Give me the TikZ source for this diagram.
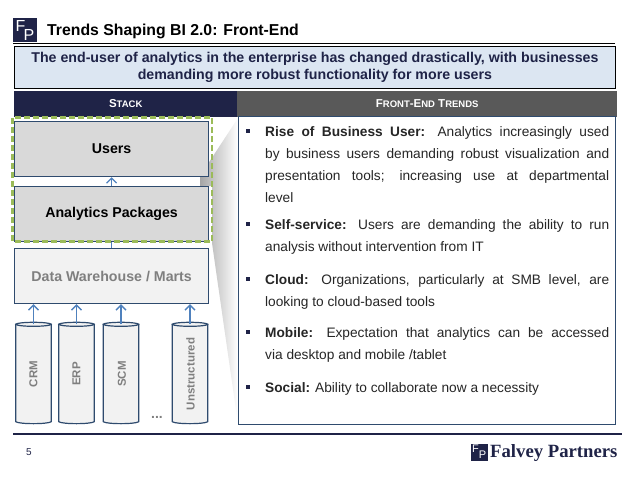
\documentclass[tikz,border=0pt]{standalone}
\usepackage{fontspec}
\setmainfont{Liberation Sans}
\newfontfamily\serifbrand{Liberation Serif}
\usetikzlibrary{arrows.meta,shapes.geometric,calc}
\definecolor{navy}{HTML}{1F2347}
\definecolor{edge}{HTML}{2F4B6E}
\definecolor{arrowblue}{HTML}{4F81BD}
\definecolor{banner}{HTML}{DCE6F2}
\definecolor{boxgray}{HTML}{D9D9D9}
\definecolor{lightbox}{HTML}{F2F2F2}
\definecolor{midgray}{HTML}{7F7F7F}
\definecolor{headgray}{HTML}{595959}
\definecolor{dgreen}{HTML}{9BBB59}
\definecolor{bodytext}{HTML}{262626}
\newcommand{\drumshape}[1]{%
  \draw[drumline,fill=lightbox] (#1.north west) -- (#1.south west)
    .. controls ($(#1.south west)+(3,2.6)$) and ($(#1.south east)+(-3,2.6)$) .. (#1.south east)
    -- (#1.north east) -- cycle;
  \draw[drumline,fill=lightbox] (#1.north) ellipse [x radius=17.5pt,y radius=2pt];
}
\tikzset{
  x=1pt,y=-1pt,
  stackbox/.style={draw=edge,line width=1.2pt,fill=boxgray,minimum width=194pt,anchor=north west,inner sep=0pt,font=\fontsize{14.2}{16}\selectfont\bfseries},
  drumline/.style={draw=edge,line width=1.2pt},
  sourcecyl/.style={minimum width=35pt,minimum height=97pt,inner sep=0pt,anchor=center},
  cyllabel/.style={rotate=90,text=midgray,font=\fontsize{11.5}{14}\selectfont\bfseries},
  flow/.style={arrowblue,line width=1.3pt,-{Straight Barb[length=5pt,width=10pt]}},
  headbar/.style={anchor=north west,minimum height=26pt,inner sep=0pt,text=white,font=\fontsize{11.5}{14}\selectfont\bfseries},
  bullet/.style={anchor=north west,inner sep=0pt,text width=344pt,align=justify,text=bodytext,font=\fontsize{13.7}{22.2}\selectfont},
  bulletmark/.style={fill=navy,minimum size=3.5pt,inner sep=0pt},
}
\begin{document}
\begin{tikzpicture}
\useasboundingbox (0,0) rectangle (638,479);
% title
\node[fill=navy,minimum size=24pt,inner sep=0pt] (logo) at (25,30) {};
\node[text=white,inner sep=0pt,font=\fontsize{16}{16}\selectfont] (logoF) at (20.5,26) {F};
\node[text=white,inner sep=0pt,font=\fontsize{16}{16}\selectfont] (logoP) at (29,35) {P};
\node[anchor=west,inner sep=0pt,text=black,font=\fontsize{15.8}{18}\selectfont\bfseries] (title) at (47,31) {Trends Shaping BI 2.0: Front-End};
\draw[black,line width=0.9pt] (13,43) -- (615,43);
% banner
\node[draw=black,line width=0.8pt,fill=banner,anchor=north west,minimum width=601pt,minimum height=42pt,inner sep=0pt,align=center,text=navy,font=\fontsize{14.2}{17}\selectfont\bfseries] (banner) at (14,45.5)
  {The end-user of analytics in the enterprise has changed drastically, with businesses\\demanding more robust functionality for more users};
% headers
\node[headbar,fill=navy,minimum width=223pt] (hstack) at (14,90.5) {S{\fontsize{9.5}{14}\selectfont TACK}};
\node[headbar,fill=headgray,minimum width=380pt] (htrends) at (237,90.5) {F{\fontsize{9.5}{14}\selectfont RONT}-E{\fontsize{9.5}{14}\selectfont ND} T{\fontsize{9.5}{14}\selectfont RENDS}};
% callout wedge
\shade[left color=black!35,right color=white,shading angle=90]
  (238,118) -- (200,176) -- (200,186) -- (212,186) -- (212,243) -- (238,424) -- cycle;
% right panel
\node[draw=edge,line width=0.9pt,fill=white,anchor=north west,minimum width=377pt,minimum height=308pt,inner sep=0pt] (panel) at (238,116) {};
% stack boxes
\node[stackbox,minimum height=55pt] (users) at (14,121) {Users};
\node[stackbox,minimum height=55pt] (analytics) at (14,186) {Analytics Packages};
\node[stackbox,fill=lightbox,minimum height=55pt,text=midgray] (dw) at (14,248) {Data Warehouse / Marts};
% cylinders
\node[sourcecyl] (crm) at (33.5,373) {};
\node[sourcecyl] (erp) at (76.5,373) {};
\node[sourcecyl] (scm) at (121,373) {};
\node[sourcecyl] (uns) at (190,373) {};
\drumshape{crm}
\drumshape{erp}
\drumshape{scm}
\drumshape{uns}
\node[cyllabel] (crmt) at (33.5,374) {CRM};
\node[cyllabel] (erpt) at (76.5,374) {ERP};
\node[cyllabel] (scmt) at (122,374) {SCM};
\node[cyllabel] (unst) at (190.5,374) {Unstructured};
\node[inner sep=0pt,text=midgray,font=\fontsize{14}{14}\selectfont\bfseries] (dots) at (157,417) {...};
% connectors
\draw[flow] (crm.north) -- (crm.north |- dw.south);
\draw[flow] (erp.north) -- (erp.north |- dw.south);
\draw[flow] (scm.north) -- (scm.north |- dw.south);
\draw[flow] (uns.north) -- (uns.north |- dw.south);
\draw[flow] (analytics.north) -- (users.south);
\draw[arrowblue,line width=1.3pt] (dw.north) -- (analytics.south);
% green dashed frame
\draw[dgreen,line width=2.5pt,dash pattern=on 6pt off 3pt] (12.5,117.5) rectangle (212,241.5);
% bullets
\node[bullet] (b1) at (265,126) {\textbf{Rise of Business User:} Analytics increasingly used\linebreak by business users demanding robust visualization and\linebreak presentation tools; increasing use at departmental\linebreak level};
\node[bullet] (b2) at (265,219.5) {\textbf{Self-service:} Users are demanding the ability to run\linebreak analysis without intervention from IT};
\node[bullet] (b3) at (265,274.5) {\textbf{Cloud:} Organizations, particularly at SMB level, are\linebreak looking to cloud-based tools};
\node[bullet] (b4) at (265,327.5) {\textbf{Mobile:} Expectation that analytics can be accessed\linebreak via desktop and mobile /tablet};
\node[bullet] (b5) at (265,382.5) {\textbf{Social:} Ability to collaborate now a necessity};
\node[bulletmark] (m1) at (248,131) {};
\node[bulletmark] (m2) at (248,224) {};
\node[bulletmark] (m3) at (248,279) {};
\node[bulletmark] (m4) at (248,332) {};
\node[bulletmark] (m5) at (248,387) {};
% footer
\draw[navy,line width=1.2pt] (13,434) -- (622,434);
\node[inner sep=0pt,text=navy,font=\fontsize{10}{11}\selectfont] (pageno) at (29,452) {5};
\node[fill=navy,minimum width=17pt,minimum height=17pt,inner sep=0pt] (flogo) at (479,452) {};
\node[text=white,inner sep=0pt,font=\fontsize{11}{10}\selectfont] (flogoF) at (475.5,449) {F};
\node[text=white,inner sep=0pt,font=\fontsize{11}{10}\selectfont] (flogoP) at (482.5,455) {P};
\node[anchor=west,inner sep=0pt,text=navy,font=\fontsize{18.7}{19}\selectfont\bfseries\serifbrand] (brand) at (490,453) {Falvey Partners};
\end{tikzpicture}
\end{document}
